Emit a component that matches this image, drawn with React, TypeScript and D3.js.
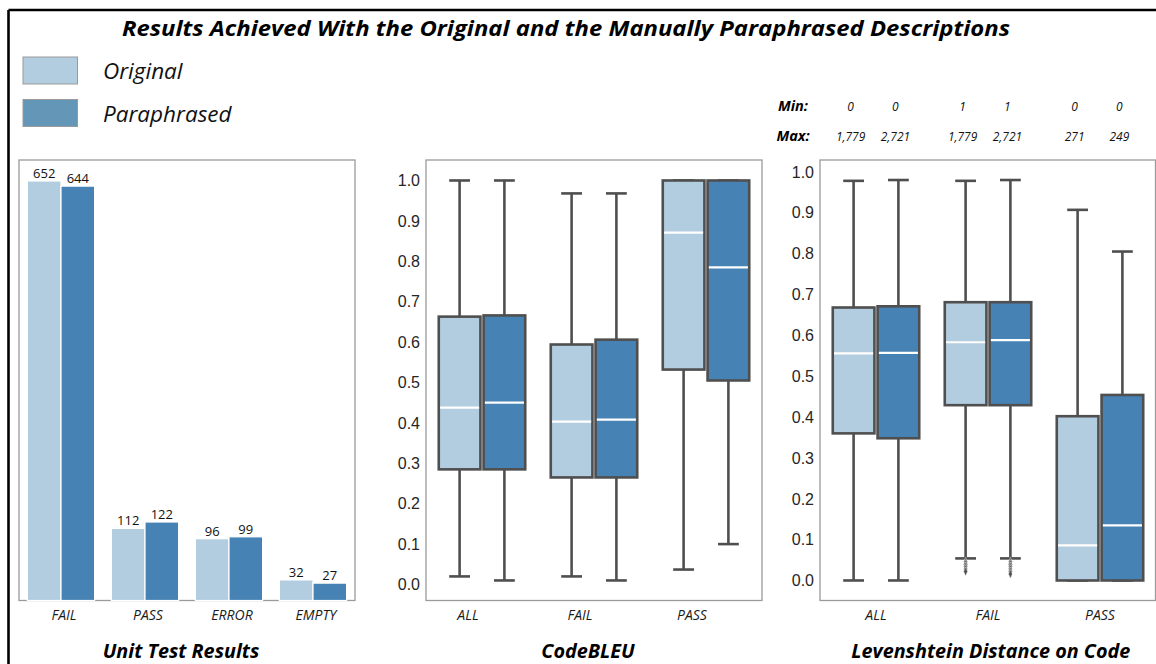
import React from "react";
import * as d3 from "d3";

// ---------- data ----------
const seriesNames = ["Original", "Paraphrased"];
const seriesColors = ["#b3cde0", "#4682b4"];
const legendColors = ["#b3cde0", "#6497b7"];

const unitCategories = ["FAIL", "PASS", "ERROR", "EMPTY"];
const unitOriginal = [652, 112, 96, 32];
const unitParaphrased = [644, 122, 99, 27];

const boxCategories = ["ALL", "FAIL", "PASS"];
// five-number summaries [lowWhisker, q1, median, q3, highWhisker]
const codebleuOriginal = [
  [0.02, 0.285, 0.438, 0.663, 1.0],
  [0.02, 0.265, 0.403, 0.594, 0.968],
  [0.037, 0.532, 0.871, 1.0, 1.0],
];
const codebleuParaphrased = [
  [0.01, 0.285, 0.45, 0.666, 1.0],
  [0.01, 0.265, 0.408, 0.606, 0.968],
  [0.1, 0.505, 0.785, 1.0, 1.0],
];
const levOriginal = [
  [0.0, 0.36, 0.556, 0.668, 0.978],
  [0.054, 0.429, 0.583, 0.681, 0.978],
  [0.0, 0.0, 0.086, 0.402, 0.907],
];
const levParaphrased = [
  [0.0, 0.348, 0.557, 0.671, 0.98],
  [0.054, 0.429, 0.588, 0.681, 0.98],
  [0.0, 0.0, 0.135, 0.454, 0.805],
];
const levFailOutliersOriginal = [0.046, 0.04, 0.034, 0.028, 0.022];
const levFailOutliersParaphrased = [0.046, 0.04, 0.034, 0.028, 0.022, 0.016];

const yTicks = [0, 0.1, 0.2, 0.3, 0.4, 0.5, 0.6, 0.7, 0.8, 0.9, 1.0];
const minLabels = ["0", "0", "1", "1", "0", "0"];
const maxLabels = ["1,779", "2,721", "1,779", "2,721", "271", "249"];

const titleText = "Results Achieved With the Original and the Manually Paraphrased Descriptions";
const panelTitles = ["Unit Test Results", "CodeBLEU", "Levenshtein Distance on Code"];

// ---------- style ----------
const SANS = "'Open Sans', 'Noto Sans', sans-serif";
const ARIAL = "'Liberation Sans', Arial, sans-serif";
const FRAME = "#9a9a9a";
const BOXLINE = "#4f4f4f";

const fmt = d3.format(".1f");

type BoxProps = {
  x0: number;
  x1: number;
  yDomain: [number, number];
  orig: number[][];
  para: number[][];
  outliers?: { cat: number; orig: number[]; para: number[] };
  labelDx: number;
  titleDx: number;
  title: string;
};

function BoxPanel({ x0, x1, yDomain, orig, para, outliers, labelDx, titleDx, title }: BoxProps) {
  const top = 160;
  const bottom = 600.5;
  const x = d3.scaleBand<string>().domain(boxCategories).range([x0, x0 + 336]).padding(0);
  const hue = d3.scaleBand<string>().domain(seriesNames).range([0, x.bandwidth() * 0.8]);
  const y = d3.scaleLinear().domain(yDomain).range([bottom, top]);
  const boxW = hue.bandwidth() * 0.93;
  const off = x.bandwidth() * 0.1;
  const series = [orig, para];
  const frameRight = Math.min(x1, 1155.5);
  const diamond = d3.symbol().type(d3.symbolDiamond).size(16)() as string;
  return (
    <g>
      <rect x={x0} y={top} width={frameRight - x0} height={bottom - top} fill="none" stroke={FRAME} strokeWidth={1.3} />
      {yTicks.map((t) => (
        <text key={t} x={x0 - 6} y={y(t)} dy="0.36em" textAnchor="end" fontFamily={ARIAL} fontSize={16} fill="#262626">
          {fmt(t)}
        </text>
      ))}
      {boxCategories.map((c, ci) =>
        seriesNames.map((s, si) => {
          const [lo, q1, med, q3, hi] = series[si][ci];
          const cx = (x(c) as number) + off + (hue(s) as number) + hue.bandwidth() / 2;
          const bx = cx - boxW / 2;
          const capW = boxW / 2;
          const outs = outliers && outliers.cat === ci ? (si === 0 ? outliers.orig : outliers.para) : [];
          return (
            <g key={c + s}>
              <line x1={cx} x2={cx} y1={y(lo)} y2={y(q1)} stroke={BOXLINE} strokeWidth={2.6} />
              <line x1={cx} x2={cx} y1={y(q3)} y2={y(hi)} stroke={BOXLINE} strokeWidth={2.6} />
              <line x1={cx - capW / 2} x2={cx + capW / 2} y1={y(lo)} y2={y(lo)} stroke={BOXLINE} strokeWidth={2.6} />
              <line x1={cx - capW / 2} x2={cx + capW / 2} y1={y(hi)} y2={y(hi)} stroke={BOXLINE} strokeWidth={2.6} />
              <rect x={bx} y={y(q3)} width={boxW} height={y(q1) - y(q3)} fill={seriesColors[si]} stroke={BOXLINE} strokeWidth={2.6} />
              <line x1={bx + 1.3} x2={bx + boxW - 1.3} y1={y(med)} y2={y(med)} stroke="#ffffff" strokeWidth={2.2} />
              {outs.map((o, oi) => (
                <path key={oi} d={diamond} transform={`translate(${cx},${y(o)}) scale(0.9,1.2)`} fill={BOXLINE} stroke="#ffffff" strokeWidth={0.4} />
              ))}
            </g>
          );
        })
      )}
      {boxCategories.map((c) => (
        <text
          key={c}
          x={(x(c) as number) + x.bandwidth() / 2 + labelDx}
          y={620}
          textAnchor="middle"
          fontFamily={SANS}
          fontStyle="italic"
          fontSize={14}
          fill="#1a1a1a"
        >
          {c}
        </text>
      ))}
      <text x={(x0 + frameRight) / 2 + titleDx} y={658} textAnchor="middle" fontFamily={SANS} fontStyle="italic" fontWeight={700} fontSize={19.8} fill="#000">
        {title}
      </text>
    </g>
  );
}

function BarPanel() {
  const x0 = 19;
  const x1 = 355;
  const top = 160;
  const bottom = 600.5;
  const x = d3.scaleBand<string>().domain(unitCategories).range([x0, x1]).padding(0);
  const hue = d3.scaleBand<string>().domain(seriesNames).range([0, x.bandwidth() * 0.8]);
  const y = d3.scaleLinear().domain([0, 684.6]).range([bottom, top]);
  const off = x.bandwidth() * 0.1;
  const series = [unitOriginal, unitParaphrased];
  return (
    <g>
      <rect x={x0} y={top} width={x1 - x0} height={bottom - top} fill="none" stroke={FRAME} strokeWidth={1.3} />
      {unitCategories.map((c, ci) =>
        seriesNames.map((s, si) => {
          const bx = (x(c) as number) + off + (hue(s) as number);
          const v = series[si][ci];
          return (
            <g key={c + s}>
              <rect x={bx} y={y(v)} width={hue.bandwidth()} height={y(0) - y(v)} fill={seriesColors[si]} stroke="#ffffff" strokeWidth={1.2} />
              <text x={bx + hue.bandwidth() / 2} y={y(v) - 3} textAnchor="middle" fontFamily={SANS} fontSize={13} fill="#111">
                {v}
              </text>
            </g>
          );
        })
      )}
      {unitCategories.map((c) => (
        <text key={c} x={(x(c) as number) + x.bandwidth() / 2 + 3} y={620} textAnchor="middle" fontFamily={SANS} fontStyle="italic" fontSize={14} fill="#1a1a1a">
          {c}
        </text>
      ))}
      <text x={(x0 + x1) / 2 - 6} y={658} textAnchor="middle" fontFamily={SANS} fontStyle="italic" fontWeight={700} fontSize={19.8} fill="#000">
        {panelTitles[0]}
      </text>
    </g>
  );
}

export default function App() {
  const levX = d3.scaleBand<string>().domain(boxCategories).range([820, 1156]);
  const levHue = d3.scaleBand<string>().domain(seriesNames).range([0, levX.bandwidth() * 0.8]);
  const colCenters: number[] = [];
  boxCategories.forEach((c) =>
    seriesNames.forEach((s) => {
      colCenters.push((levX(c) as number) + levX.bandwidth() * 0.1 + (levHue(s) as number) + levHue.bandwidth() / 2);
    })
  );
  return (
    <svg width={1156} height={664} style={{ position: "absolute", left: 0, top: 0, background: "#fff" }}>
      <rect x={0} y={0} width={1156} height={664} fill="#fff" />
      <line x1={8.5} x2={1156} y1={10} y2={10} stroke="#000" strokeWidth={2.6} />
      <line x1={8.5} x2={8.5} y1={10} y2={664} stroke="#000" strokeWidth={2.6} />
      <text
        x={566}
        y={36}
        textAnchor="middle"
        fontFamily={SANS}
        fontStyle="italic"
        fontWeight={700}
        fontSize={22}
        textLength={888}
        lengthAdjust="spacingAndGlyphs"
        fill="#000"
      >
        {titleText}
      </text>
      {seriesNames.map((s, i) => (
        <g key={s}>
          <rect x={23} y={57 + i * 42.5} width={54.5} height={27} fill={legendColors[i]} stroke="#9a9a9a" strokeWidth={1} />
          <text x={103} y={78.5 + i * 43} fontFamily={SANS} fontStyle="italic" fontSize={22.5} fill="#111">
            {s}
          </text>
        </g>
      ))}
      <BarPanel />
      <BoxPanel
        x0={426}
        x1={762}
        yDomain={[-0.0396, 1.0507]}
        orig={codebleuOriginal}
        para={codebleuParaphrased}
        labelDx={-14}
        titleDx={-6}
        title={panelTitles[1]}
      />
      <BoxPanel
        x0={820}
        x1={1156}
        yDomain={[-0.049, 1.029]}
        orig={levOriginal}
        para={levParaphrased}
        outliers={{ cat: 1, orig: levFailOutliersOriginal, para: levFailOutliersParaphrased }}
        labelDx={0}
        titleDx={3}
        title={panelTitles[2]}
      />
      <text x={793} y={111} textAnchor="middle" fontFamily={SANS} fontStyle="italic" fontWeight={700} fontSize={14.5} fill="#000">
        Min:
      </text>
      <text x={793} y={141} textAnchor="middle" fontFamily={SANS} fontStyle="italic" fontWeight={700} fontSize={14.5} fill="#000">
        Max:
      </text>
      {colCenters.map((cx, i) => (
        <g key={i}>
          <text x={cx - 3} y={111} textAnchor="middle" fontFamily={SANS} fontStyle="italic" fontSize={12} fill="#111">
            {minLabels[i]}
          </text>
          <text x={cx - 3} y={141} textAnchor="middle" fontFamily={SANS} fontStyle="italic" fontSize={12} fill="#111">
            {maxLabels[i]}
          </text>
        </g>
      ))}
    </svg>
  );
}
